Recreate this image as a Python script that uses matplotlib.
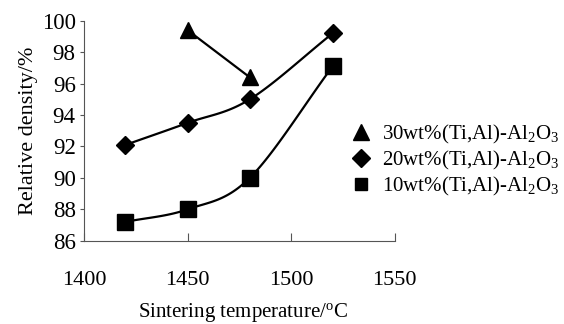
import numpy as np
import matplotlib
matplotlib.use("Agg")
import matplotlib.pyplot as plt
from matplotlib.lines import Line2D

plt.rcParams['font.family'] = ['Liberation Serif', 'DejaVu Serif']
plt.rcParams['mathtext.fontset'] = 'custom'
plt.rcParams['mathtext.rm'] = 'Liberation Serif'
plt.rcParams['mathtext.it'] = 'Liberation Serif'

temp30 = [1450, 1480]
dens30 = [99.4, 96.4]
temp20 = [1420, 1450, 1480, 1520]
dens20 = [92.1, 93.5, 95.0, 99.2]
temp10 = [1420, 1450, 1480, 1520]
dens10 = [87.2, 88.0, 90.0, 97.1]
labels = ['30wt%(Ti,Al)-Al$_2$O$_3$', '20wt%(Ti,Al)-Al$_2$O$_3$', '10wt%(Ti,Al)-Al$_2$O$_3$']
xticks = [1400, 1450, 1500, 1550]
yticks = [86, 88, 90, 92, 94, 96, 98, 100]


def smooth(x, y, n=30):
    x = np.asarray(x, float); y = np.asarray(y, float)
    if len(x) < 3:
        return x, y
    px = np.concatenate([[2*x[0]-x[1]], x, [2*x[-1]-x[-2]]])
    py = np.concatenate([[2*y[0]-y[1]], y, [2*y[-1]-y[-2]]])
    xs, ys = [], []
    t = np.linspace(0, 1, n)
    for i in range(1, len(px)-2):
        for p, out in ((px, xs), (py, ys)):
            p0, p1, p2, p3 = p[i-1], p[i], p[i+1], p[i+2]
            out.extend(0.5*((2*p1) + (-p0+p2)*t + (2*p0-5*p1+4*p2-p3)*t**2 + (-p0+3*p1-3*p2+p3)*t**3))
    return np.array(xs), np.array(ys)


fig = plt.figure(figsize=(5.64, 3.24), dpi=100)
ax = fig.add_axes([0.149, 0.257, 0.551, 0.679])

ms = 11
for xs, ys, mk, s in ((temp30, dens30, '^', ms), (temp20, dens20, 'D', ms*0.8), (temp10, dens10, 's', ms)):
    sx, sy = smooth(xs, ys)
    ax.plot(sx, sy, color='black', lw=1.6, zorder=2)
    ax.plot(xs, ys, linestyle='none', marker=mk, ms=s, color='black', zorder=3)

ax.set_xlim(1400, 1550)
ax.set_ylim(86, 100)
ax.set_xticks(xticks)
ax.set_yticks(yticks)
ax.tick_params(axis='x', direction='in', length=6, width=0.8, pad=22, labelsize=16, color='#555555')
ax.tick_params(axis='y', direction='out', length=3, width=0.8, pad=3, labelsize=16.5, color='#555555')
for s in ('top', 'right'):
    ax.spines[s].set_visible(False)
for s in ('left', 'bottom'):
    ax.spines[s].set_color('#555555')
    ax.spines[s].set_linewidth(0.8)

ax.set_ylabel('Relative density/%', fontsize=16, labelpad=3)
fig.text(0.43, 0.035, 'Sintering temperature/$^\\mathrm{o}$C', fontsize=15, ha='center', va='center')

handles = [Line2D([], [], linestyle='none', marker='^', ms=ms, color='black'),
           Line2D([], [], linestyle='none', marker='D', ms=ms*0.8, color='black'),
           Line2D([], [], linestyle='none', marker='s', ms=ms*0.85, color='black')]
fig.legend(handles, labels, loc='center left', bbox_to_anchor=(0.61, 0.505), frameon=False,
           fontsize=15, handlelength=0.8, handletextpad=0.6, labelspacing=0.15, borderaxespad=0)

fig.savefig('out.png', dpi=100)
